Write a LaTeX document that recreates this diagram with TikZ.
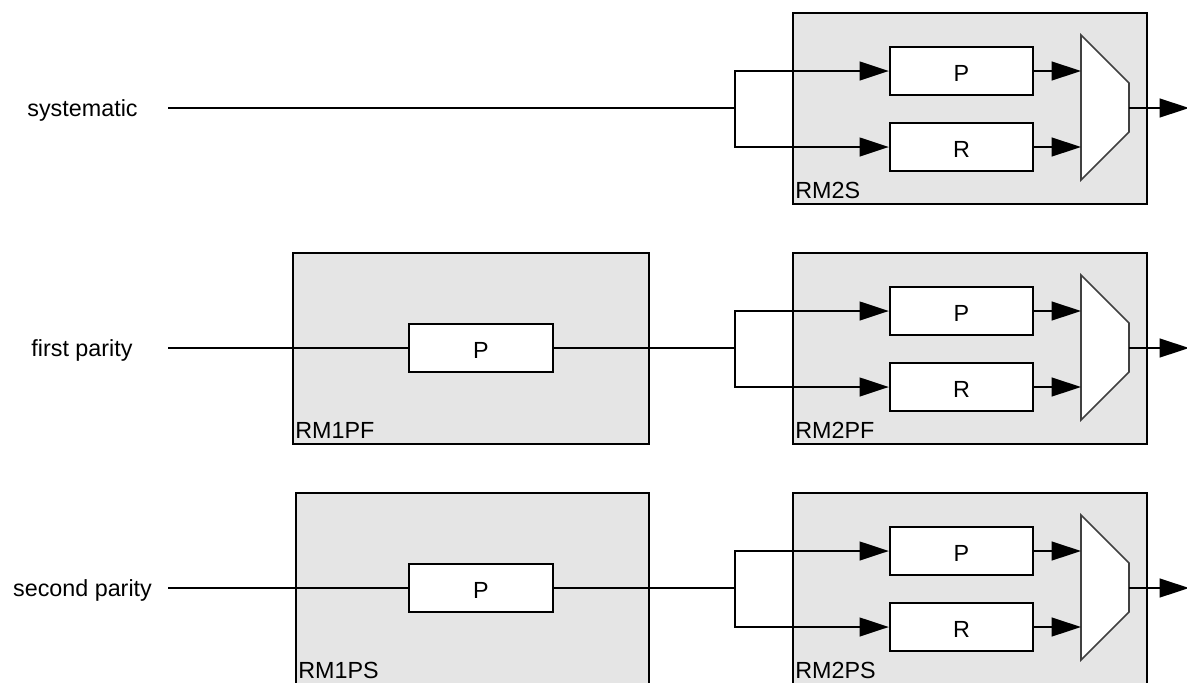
\documentclass[tikz,border=0pt]{standalone}
\usepackage{fontspec}
\setmainfont{Liberation Sans}
\usetikzlibrary{arrows.meta}
\definecolor{boxgray}{HTML}{E5E5E5}
\definecolor{muxline}{HTML}{404040}
\begin{document}
\begin{tikzpicture}[x=0.75pt,y=-0.75pt,
  font=\fontsize{17.5}{20}\selectfont,
  outer/.style={draw=black,line width=1.7pt,fill=boxgray,inner sep=0pt},
  blk/.style={draw=black,line width=1.7pt,fill=white,minimum width={143*0.75pt},minimum height={48*0.75pt},inner sep=0pt,text height=15pt,text depth=0pt},
  wire/.style={line width=1.7pt},
  arr/.style={wire,-{Triangle[length=22pt,width=14pt]}},
  mux/.style={draw=muxline,line width=1.2pt,fill=white},
  tag/.style={anchor=base west,inner sep=0pt},
  sig/.style={anchor=base,inner sep=0pt}
]
\useasboundingbox (0,0) rectangle (1187,682);

% ---- second-stage blocks (RM2*) ----
\foreach \c/\n/\lab/\h in {108/s/RM2S/191, 348/f/RM2PF/191, 588/t/RM2PS/220} {
  \node[outer, minimum width={354*0.75pt}, minimum height={\h*0.75pt}, anchor=north] (B\n) at (970,\c-96) {};
  \node[tag] (T\n) at (795,\c+90) {\lab};
  \node[blk] (P\n) at (961.5,\c-37) {P};
  \node[blk] (R\n) at (961.5,\c+39) {R};
  \draw[mux] (1081,\c-73) -- (1129,\c-25) -- (1129,\c+24) -- (1081,\c+72) -- cycle;
  \coordinate (MP\n) at (1081,\c-37);
  \coordinate (MR\n) at (1081,\c+39);
  \coordinate (MO\n) at (1129,\c);
  \coordinate (E\n) at (1189,\c);
  \coordinate (J\n) at (735,\c);
}

% ---- first-stage blocks (RM1*) ----
\node[outer, minimum width={356*0.75pt}, minimum height={191*0.75pt}, anchor=north] (Af) at (471,252) {};
\node[tag] (Uf) at (295,438) {RM1PF};
\node[blk, minimum width={144*0.75pt}] (Qf) at (481,348) {P};

\node[outer, minimum width={353*0.75pt}, minimum height={220*0.75pt}, anchor=north] (At) at (472.5,492) {};
\node[tag] (Ut) at (298,678) {RM1PS};
\node[blk, minimum width={144*0.75pt}] (Qt) at (481,588) {P};

% ---- signal labels ----
\node[sig] (Ls) at (82.5,116.5) {systematic};
\node[sig] (Lf) at (82,356.5) {first parity};
\node[sig] (Lt) at (82.5,596.5) {second parity};
\coordinate (Ss) at (168,108);
\coordinate (Sf) at (168,348);
\coordinate (St) at (168,588);

% ---- wires ----
\draw[wire] (Ss) -- (Js);
\draw[wire] (Sf) -- (Qf.west);
\draw[wire] (Qf.east) -- (Jf);
\draw[wire] (St) -- (Qt.west);
\draw[wire] (Qt.east) -- (Jt);

\foreach \n in {s,f,t} {
  \draw[arr] (J\n) |- (P\n.west);
  \draw[arr] (J\n) |- (R\n.west);
  \draw[arr] (P\n.east) -- (MP\n);
  \draw[arr] (R\n.east) -- (MR\n);
  \draw[arr] (MO\n) -- (E\n);
}
\end{tikzpicture}
\end{document}
